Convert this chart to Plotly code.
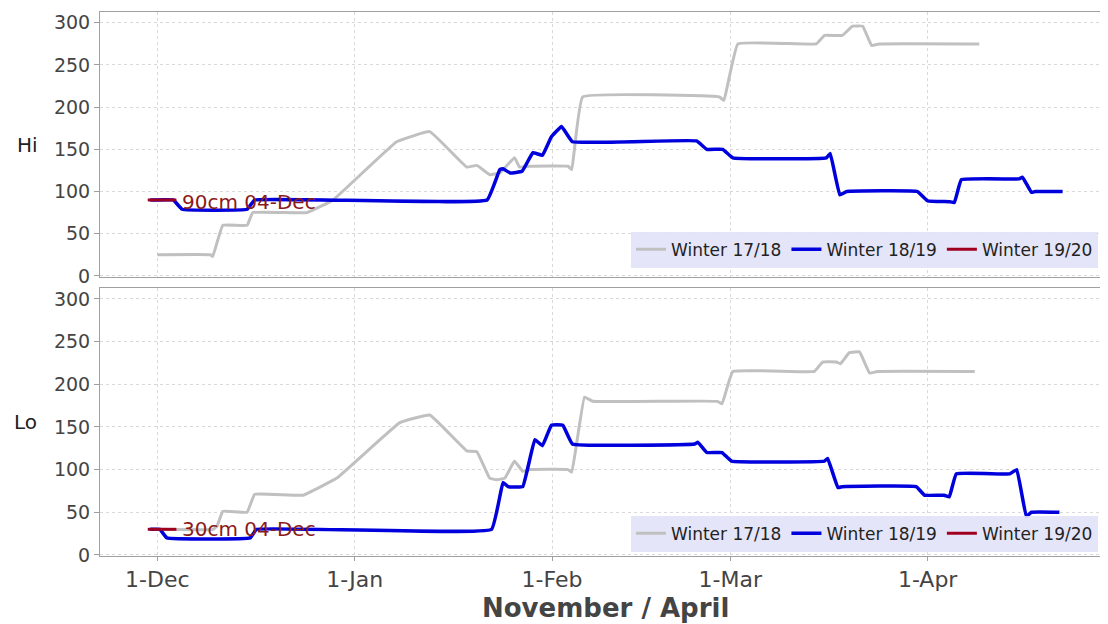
import pandas as pd
import plotly.graph_objects as go

BASE = pd.Timestamp("2018-12-01")
SEASONS = ["Winter 17/18", "Winter 18/19", "Winter 19/20"]

# ---- Hi panel (days from 1-Dec, depth cm) ----
hi_1718_day = [0, 8.3, 8.7, 10.3, 14.1, 15.0, 23.5, 27.6, 37.6, 42.8, 48.6, 50.2, 52.2, 53.8,
               56.1, 56.9, 58.5, 64.5, 65.1, 66.8, 88.3, 89.0, 91.2, 103.5, 104.8, 107.6,
               109.2, 110.8, 112.2, 113.4, 129.1]
hi_1718_cm = [25, 25, 23, 60, 60, 75, 75, 90, 159, 171, 129, 131, 120, 122,
              140, 129, 130, 130, 126, 212, 212, 208, 275, 275, 285, 285,
              296, 296, 273, 275, 275]

hi_1819_day = [-1.1, 2.5, 3.9, 14.1, 15.3, 51.8, 53.8, 54.3, 55.4, 57.3, 59.0, 60.5, 61.9,
               63.5, 65.2, 84.7, 86.3, 88.8, 90.4, 105.1, 105.7, 107.2, 108.3, 119.4,
               121.0, 124.4, 125.2, 126.3, 135.4, 135.9, 137.3, 137.9, 142.2]
hi_1819_cm = [90, 90, 79, 79, 90, 90, 126, 127, 122, 124, 146, 143, 165,
              177, 159, 160, 150, 150, 140, 140, 145, 96, 100, 100,
              89, 88, 87, 114, 115, 117, 99, 100, 100]

hi_1920_day = [-1.5, 3.0]
hi_1920_cm = [90, 90]

# ---- Lo panel ----
lo_1718_day = [0, 8.8, 9.4, 10.3, 14.1, 15.3, 22.9, 28.2, 38.1, 42.8, 48.6, 50.2, 52.2, 53.3,
               54.6, 56.1, 57.4, 58.5, 64.5, 65.1, 67.1, 68.4, 88.0, 88.7, 90.4, 103.2,
               104.5, 106.7, 107.3, 108.7, 110.3, 111.9, 113.1, 128.4]
lo_1718_cm = [30, 30, 34, 51, 50, 71, 70, 90, 155, 164, 122, 121, 90, 88,
              90, 110, 98, 100, 100, 97, 185, 180, 180, 177, 215, 215,
              226, 226, 224, 237, 238, 213, 215, 215]

lo_1819_day = [-1.1, 0.4, 1.5, 14.6, 15.6, 52.5, 54.3, 55.1, 57.4, 59.3, 60.5, 61.9, 63.7,
               65.2, 84.4, 84.9, 86.3, 88.7, 90.2, 104.8, 105.3, 106.9, 107.6, 119.2,
               120.5, 123.6, 124.4, 125.5, 133.9, 135.0, 136.5, 137.3, 141.7]
lo_1819_cm = [30, 30, 20, 20, 30, 30, 85, 80, 80, 135, 128, 152, 152,
              130, 130, 132, 120, 120, 110, 110, 113, 79, 80, 80,
              70, 70, 68, 95, 95, 100, 45, 50, 50]

lo_1920_day = [-1.5, 3.0]
lo_1920_cm = [30, 30]

hi_note = "90cm 04-Dec"
lo_note = "30cm 04-Dec"

COLORS = ["#c0c0c0", "#0000dd", "#a00020"]
WIDTHS = [3, 3.5, 3]


def dates(days):
    return [BASE + pd.Timedelta(days=d) for d in days]


fig = go.Figure()
panels = [
    ("y", "x", "legend", [(hi_1718_day, hi_1718_cm), (hi_1819_day, hi_1819_cm), (hi_1920_day, hi_1920_cm)]),
    ("y2", "x2", "legend2", [(lo_1718_day, lo_1718_cm), (lo_1819_day, lo_1819_cm), (lo_1920_day, lo_1920_cm)]),
]
for yref, xref, leg, series in panels:
    for i, (d, v) in enumerate(series):
        fig.add_trace(go.Scatter(
            x=dates(d), y=v, mode="lines", name=SEASONS[i],
            line=dict(color=COLORS[i], width=WIDTHS[i], shape="spline", smoothing=0.25),
            xaxis=xref, yaxis=yref, legend=leg,
        ))

x_range = [BASE + pd.Timedelta(days=-9.0), BASE + pd.Timedelta(days=148.7)]
grid = dict(showgrid=True, gridcolor="#d9d9d9", griddash="3px,3px", gridwidth=1)
common_x = dict(type="date", range=x_range, dtick="M1", tick0="2018-12-01",
                tickformat="%-d-%b", showline=True, linecolor="#a0a0a0", mirror=True,
                zeroline=False, **grid)
common_y = dict(range=[-1.3, 312.8], dtick=50, tick0=0, ticks="outside", ticklen=5,
                tickcolor="#a0a0a0", showline=True, linecolor="#a0a0a0", mirror=True,
                zeroline=False, tickfont=dict(size=19, color="#444444"), **grid)

leg_common = dict(orientation="h", xanchor="right", yanchor="bottom",
                  bgcolor="rgba(226,226,248,0.9)", font=dict(size=17, color="#222222"),
                  itemwidth=30, tracegroupgap=0)

# the page body adds an 8px offset; the figure is sized so the plot lands where the reference has it
fig.update_layout(
    width=1100, height=616,
    margin=dict(l=92, r=4, t=4, b=68),
    paper_bgcolor="white", plot_bgcolor="white",
    font=dict(family="DejaVu Sans", color="#333333"),
    xaxis=dict(domain=[0, 1], anchor="y", showticklabels=False, ticks="", **common_x),
    yaxis=dict(domain=[0.5129, 1], anchor="x", **common_y),
    xaxis2=dict(domain=[0, 1], anchor="y2", matches="x", ticks="outside", ticklen=4,
                tickcolor="#a0a0a0", tickfont=dict(size=22, color="#444444"), **common_x),
    yaxis2=dict(domain=[0, 0.4926], anchor="x2", **common_y),
    legend=dict(x=0.994, y=0.530, **leg_common),
    legend2=dict(x=0.994, y=0.008, **leg_common),
    showlegend=True,
)

note_color = "#8b1a1a"
fig.add_annotation(x=BASE + pd.Timedelta(days=3.6), y=hi_1920_cm[-1] - 3, xref="x", yref="y",
                   text=hi_note, showarrow=False, xanchor="left", yanchor="middle",
                   font=dict(size=20, color=note_color))
fig.add_annotation(x=BASE + pd.Timedelta(days=3.6), y=lo_1920_cm[-1], xref="x2", yref="y2",
                   text=lo_note, showarrow=False, xanchor="left", yanchor="middle",
                   font=dict(size=20, color=note_color))

fig.add_annotation(x=-0.0722, y=0.7555, xref="paper", yref="paper", text="Hi",
                   showarrow=False, xanchor="center", yanchor="middle",
                   font=dict(size=20, color="#222222"))
fig.add_annotation(x=-0.0747, y=0.2463, xref="paper", yref="paper", text="Lo",
                   showarrow=False, xanchor="center", yanchor="middle",
                   font=dict(size=20, color="#222222"))
fig.add_annotation(x=0.503, y=-0.0956, xref="paper", yref="paper", text="<b>November / April</b>",
                   showarrow=False, xanchor="center", yanchor="middle",
                   font=dict(size=26, color="#444444"))

fig.write_html("out.html")
